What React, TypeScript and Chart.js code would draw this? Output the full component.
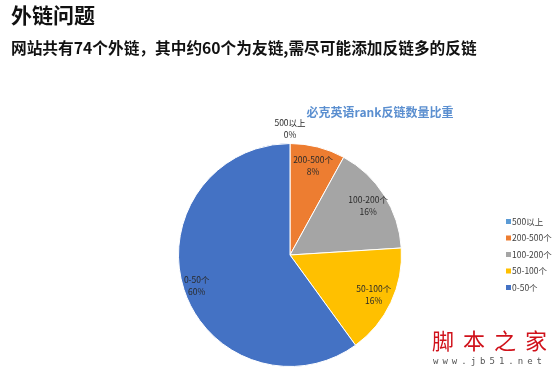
import React, { useEffect, useRef } from 'react';
import { Chart, registerables } from 'chart.js';

Chart.register(...registerables);

const categories = ['500以上', '200-500个', '100-200个', '50-100个', '0-50个'];
const shares = [0, 8, 16, 16, 60];
const sliceColors = ['#5B9BD5', '#ED7D31', '#A5A5A5', '#FFC000', '#4472C4'];
const pageTitle = '外链问题';
const pageSubtitle = '网站共有74个外链，其中约60个为友链,需尽可能添加反链多的反链';
const chartTitle = '必克英语rank反链数量比重';
const watermarkMain = '脚本之家';
const watermarkUrl = 'www.jb51.net';

const CJK = '"Noto Sans CJK SC", sans-serif';
const SMALL = '"Noto Sans CJK SC", sans-serif';

export default function App() {
  const ref = useRef<HTMLCanvasElement>(null);

  useEffect(() => {
    const decor = {
      id: 'decor',
      afterDraw(chart: any) {
        const ctx = chart.ctx as CanvasRenderingContext2D;
        ctx.save();
        // page headers
        ctx.textBaseline = 'middle';
        ctx.textAlign = 'left';
        ctx.fillStyle = '#111111';
        ctx.font = `bold 21px ${CJK}`;
        ctx.fillText(pageTitle, 11, 15);
        ctx.font = `bold 15.7px ${CJK}`;
        ctx.fillText(pageSubtitle, 11, 48);

        // chart title
        ctx.textAlign = 'center';
        ctx.fillStyle = '#5B8FD0';
        ctx.font = `bold 12px ${CJK}`;
        ctx.fillText(chartTitle, 380, 112);

        // data labels
        const meta = chart.getDatasetMeta(0);
        ctx.fillStyle = '#2A2A2A';
        ctx.font = `8.5px ${SMALL}`;
        meta.data.forEach((arc: any, i: number) => {
          const p = arc.getProps(['x', 'y', 'startAngle', 'endAngle', 'outerRadius'], true);
          const mid = (p.startAngle + p.endAngle) / 2;
          const frac = shares[i] === 0 ? 1.13 : shares[i] > 50 ? 0.88 : 0.83;
          const lx = p.x + Math.cos(mid) * p.outerRadius * frac;
          const ly = p.y + Math.sin(mid) * p.outerRadius * frac;
          ctx.fillText(categories[i], lx, ly - 6);
          ctx.fillText(shares[i] + '%', lx, ly + 6);
        });

        // legend
        ctx.textAlign = 'left';
        ctx.font = `8.5px ${SMALL}`;
        categories.forEach((c, i) => {
          const cy = 221.5 + i * 16.5;
          ctx.fillStyle = sliceColors[i];
          ctx.fillRect(506, cy - 2.5, 5, 5);
          ctx.fillStyle = '#404040';
          ctx.fillText(c, 512, cy);
        });

        // watermark
        ctx.fillStyle = '#D0121B';
        ctx.font = `22px ${CJK}`;
        (ctx as any).letterSpacing = '9px';
        ctx.fillText(watermarkMain, 432, 341);
        ctx.fillStyle = '#555555';
        ctx.font = `9px "DejaVu Sans Mono", monospace`;
        (ctx as any).letterSpacing = '4px';
        ctx.fillText(watermarkUrl, 433, 362);
        ctx.restore();
      },
    };

    const chart = new Chart(ref.current!, {
      type: 'pie',
      data: {
        labels: categories,
        datasets: [
          {
            data: shares,
            backgroundColor: sliceColors,
            borderColor: '#ffffff',
            borderWidth: 1,
          },
        ],
      },
      options: {
        responsive: false,
        animation: false,
        layout: { padding: { left: 178, right: 155, top: 143, bottom: 6 } },
        plugins: {
          legend: { display: false },
          tooltip: { enabled: false },
          title: { display: false },
        },
      },
      plugins: [decor],
    });
    return () => chart.destroy();
  }, []);

  return (
    <div style={{ position: 'absolute', left: 0, top: 0, width: 557, height: 373, background: '#ffffff' }}>
      <canvas ref={ref} width={557} height={373} style={{ display: 'block' }} />
    </div>
  );
}
